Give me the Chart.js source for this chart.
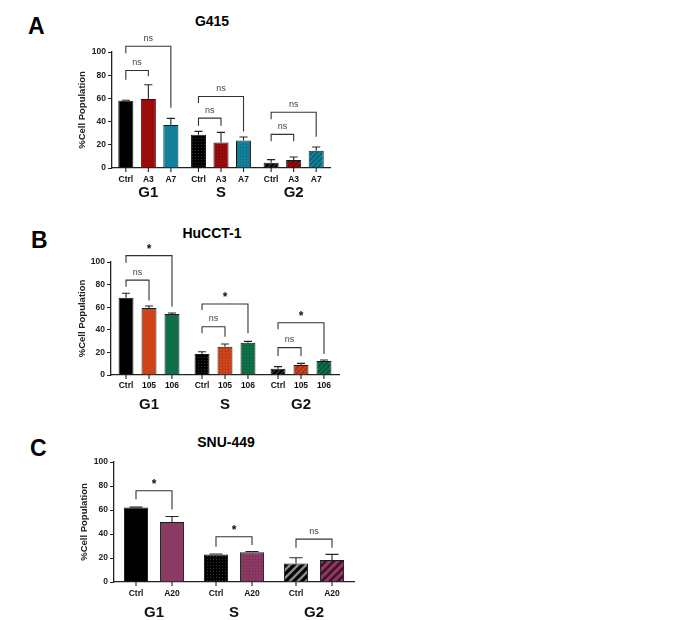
<!DOCTYPE html>
<html>
<head>
<meta charset="utf-8">
<script src="https://cdn.jsdelivr.net/npm/chart.js@4"></script>
<style>
  body { margin: 0; background: #fff; }
  #wrap { position: relative; width: 680px; height: 620px; overflow: hidden; font-family: "Liberation Sans", Arial, sans-serif; }
  canvas { position: absolute; left: 0; }
  .letter { position: absolute; font-size: 23px; line-height: 23px; font-weight: bold; color: #000; }
  .title { position: absolute; width: 200px; text-align: center; font-size: 14px; line-height: 14px; font-weight: bold; color: #000; }
</style>
</head>
<body>
<div id="wrap">
  <div class="letter" style="left:28px; top:15px;">A</div>
  <div class="title" style="left:112px; top:14px;">G415</div>
  <canvas id="chartA" width="360" height="205" style="top:0px;"></canvas>

  <div class="letter" style="left:31px; top:229px;">B</div>
  <div class="title" style="left:112px; top:226px;">HuCCT-1</div>
  <canvas id="chartB" width="360" height="205" style="top:210px;"></canvas>

  <div class="letter" style="left:30px; top:437px;">C</div>
  <div class="title" style="left:126px; top:435px;">SNU-449</div>
  <canvas id="chartC" width="360" height="205" style="top:415px;"></canvas>
</div>

<script>
  // cell cycle phases (x categories)
  var phases = ['G1', 'S', 'G2'];
  var yTicks = [0, 20, 40, 60, 80, 100];

  // A - G415
  var aGroups = ['Ctrl', 'A3', 'A7'];
  var aCtrl = [58, 28.7, 4.6];
  var aCtrlErr = [0.4, 2.9, 2.6];
  var aA3 = [59.5, 22, 6.9];
  var aA3Err = [12.3, 8.7, 2.6];
  var aA7 = [37, 23.8, 14.9];
  var aA7Err = [5.8, 2.9, 3.2];
  // [phase, from, to, top, left leg end, right leg end, label]
  var aBrackets = [
    [0, 0, 1, 84, 76, 79, 'ns'],
    [0, 0, 2, 105, 99, 52, 'ns'],
    [1, 0, 1, 43, 36.5, 36.5, 'ns'],
    [1, 0, 2, 61.7, 56, 31.5, 'ns'],
    [2, 0, 1, 29, 23, 23, 'ns'],
    [2, 0, 2, 48, 42, 27, 'ns']
  ];

  // B - HuCCT-1
  var bGroups = ['Ctrl', '105', '106'];
  var bCtrl = [68.4, 18.6, 5.6];
  var bCtrlErr = [3.9, 2.0, 1.8];
  var b105 = [59.3, 25, 8.8];
  var b105Err = [1.7, 2.4, 1.5];
  var b106 = [54, 28.6, 12.4];
  var b106Err = [0.9, 1.2, 0.9];
  var bBrackets = [
    [0, 0, 1, 84, 78, 66, 'ns'],
    [0, 0, 2, 105.6, 99.4, 60.5, '*'],
    [1, 0, 1, 42.7, 36.9, 33.9, 'ns'],
    [1, 0, 2, 62.8, 57.5, 37, '*'],
    [2, 0, 1, 24.2, 16.8, 16.8, 'ns'],
    [2, 0, 2, 46.3, 40.4, 18.6, '*']
  ];

  // C - SNU-449
  var cGroups = ['Ctrl', 'A20'];
  var cCtrl = [62, 23, 15.5];
  var cCtrlErr = [0.4, 0.3, 4.7];
  var cA20 = [50.1, 24.8, 18.3];
  var cA20Err = [4.5, 0.6, 4.7];
  var cBrackets = [
    [0, 0, 1, 76, 69, 60.4, '*'],
    [1, 0, 1, 37.7, 29.4, 30.8, '*'],
    [2, 0, 1, 35.7, 28.5, 28.5, 'ns']
  ];

  var FONT = '"Liberation Sans", Arial, sans-serif';
  Chart.defaults.font.family = FONT;

  function dotPat(base, dot) {
    var c = document.createElement('canvas');
    c.width = 3; c.height = 3;
    var g = c.getContext('2d');
    g.fillStyle = base; g.fillRect(0, 0, 3, 3);
    g.fillStyle = dot; g.fillRect(0, 0, 1, 1);
    return g.createPattern(c, 'repeat');
  }

  function stripePat(base, line, s, w) {
    var c = document.createElement('canvas');
    c.width = s; c.height = s;
    var g = c.getContext('2d');
    g.fillStyle = base; g.fillRect(0, 0, s, s);
    g.strokeStyle = line; g.lineWidth = w;
    g.beginPath();
    g.moveTo(0, s); g.lineTo(s, 0);
    g.moveTo(-s / 2, s / 2); g.lineTo(s / 2, -s / 2);
    g.moveTo(s / 2, s * 1.5); g.lineTo(s * 1.5, s / 2);
    g.stroke();
    return g.createPattern(c, 'repeat');
  }

  function fills(color, dotC, stripeC, s, w) {
    return [color, dotPat(color, dotC), stripePat(color, stripeC, s, w)];
  }

  // error bars, per-bar ticks/labels and significance brackets
  function extras(subLabels, errs, brackets, subY) {
    return {
      id: 'extras',
      afterDraw: function (chart) {
        var ctx = chart.ctx, xs = chart.scales.x, ys = chart.scales.y;
        ctx.save();
        chart.data.datasets.forEach(function (ds, di) {
          chart.getDatasetMeta(di).data.forEach(function (bar, i) {
            var top = ys.getPixelForValue(ds.data[i] + errs[di][i]);
            var half = bar.width * 0.27;
            ctx.strokeStyle = '#222';
            ctx.lineWidth = 1.1;
            ctx.beginPath();
            ctx.moveTo(bar.x, bar.y);
            ctx.lineTo(bar.x, top);
            ctx.moveTo(bar.x - half, top);
            ctx.lineTo(bar.x + half, top);
            ctx.moveTo(bar.x, xs.top);
            ctx.lineTo(bar.x, xs.top + 4);
            ctx.stroke();
            ctx.fillStyle = '#111';
            ctx.font = 'bold 8.5px ' + FONT;
            ctx.textAlign = 'center';
            ctx.textBaseline = 'middle';
            ctx.fillText(subLabels[di], bar.x, xs.top + subY);
          });
        });
        brackets.forEach(function (b) {
          var p = chart.getDatasetMeta(b[1]).data[b[0]].x;
          var q = chart.getDatasetMeta(b[2]).data[b[0]].x;
          var yT = ys.getPixelForValue(b[3]);
          ctx.strokeStyle = '#333';
          ctx.lineWidth = 1.1;
          ctx.beginPath();
          ctx.moveTo(p, ys.getPixelForValue(b[4]));
          ctx.lineTo(p, yT);
          ctx.lineTo(q, yT);
          ctx.lineTo(q, ys.getPixelForValue(b[5]));
          ctx.stroke();
          ctx.textAlign = 'center';
          ctx.textBaseline = 'middle';
          if (b[6] === '*') {
            ctx.fillStyle = '#111';
            ctx.font = 'bold 12px ' + FONT;
            ctx.fillText('*', (p + q) / 2, yT - 6);
          } else {
            ctx.fillStyle = '#444';
            ctx.font = '9px ' + FONT;
            ctx.fillText(b[6], (p + q) / 2, yT - 8);
          }
        });
        ctx.restore();
      }
    };
  }

  function makeChart(id, datasets, cfg) {
    return new Chart(document.getElementById(id), {
      type: 'bar',
      data: { labels: phases, datasets: datasets },
      options: {
        responsive: false,
        animation: false,
        layout: { padding: { top: cfg.top, left: cfg.left, right: cfg.right, bottom: 0 } },
        datasets: { bar: { categoryPercentage: cfg.cp, barPercentage: cfg.bp, borderColor: '#1a1a1a', borderWidth: 1 } },
        plugins: { legend: { display: false }, title: { display: false }, tooltip: { enabled: false } },
        scales: {
          x: {
            grid: { display: false, drawTicks: false },
            border: { color: '#222', width: 1.3 },
            ticks: { color: '#111', font: { size: 15, weight: 'bold' }, padding: cfg.groupPad, maxRotation: 0 },
            afterFit: function (s) { s.height = cfg.xh; }
          },
          y: {
            min: 0, max: 100,
            afterBuildTicks: function (s) { s.ticks = yTicks.map(function (v) { return { value: v }; }); },
            grid: { drawOnChartArea: false, drawTicks: true, tickLength: 4, color: '#222' },
            border: { color: '#222', width: 1.3 },
            ticks: { color: '#222', font: { size: 8.5, weight: 'bold' }, padding: 2 },
            title: { display: true, text: '%Cell Population', color: '#222', font: { size: 9.5, weight: 'bold' }, padding: 0 },
            afterFit: function (s) { s.width = cfg.yw; }
          }
        }
      },
      plugins: [extras(cfg.sub, cfg.errs, cfg.brackets, cfg.subY)]
    });
  }

  makeChart('chartA', [
    { label: aGroups[0], data: aCtrl, backgroundColor: fills('#000000', '#303030', '#383838', 5, 1.3) },
    { label: aGroups[1], data: aA3, backgroundColor: fills('#9a0b0b', '#6e0808', '#660606', 5, 1.3) },
    { label: aGroups[2], data: aA7, backgroundColor: fills('#13809a', '#0d6176', '#0b5a6c', 5, 1.3) }
  ], {
    top: 52, left: 77, right: 30, xh: 37, yw: 35, cp: 0.93, bp: 0.67, groupPad: 16, subY: 12,
    sub: aGroups, errs: [aCtrlErr, aA3Err, aA7Err], brackets: aBrackets
  });

  makeChart('chartB', [
    { label: bGroups[0], data: bCtrl, backgroundColor: fills('#000000', '#303030', '#383838', 5, 1.3) },
    { label: bGroups[1], data: b105, backgroundColor: fills('#d0421a', '#9a3112', '#983012', 5, 1.3) },
    { label: bGroups[2], data: b106, backgroundColor: fills('#0e7048', '#0a5536', '#084c30', 5, 1.3) }
  ], {
    top: 52, left: 77, right: 21, xh: 40, yw: 34, cp: 0.907, bp: 0.65, groupPad: 21, subY: 11,
    sub: bGroups, errs: [bCtrlErr, b105Err, b106Err], brackets: bBrackets
  });

  makeChart('chartC', [
    { label: cGroups[0], data: cCtrl, backgroundColor: fills('#000000', '#383838', '#8a8a8a', 8, 2.5) },
    { label: cGroups[1], data: cA20, backgroundColor: fills('#8b3a63', '#6a2a4a', '#3f1229', 8, 2.5) }
  ], {
    top: 47, left: 79, right: 6, xh: 38, yw: 35, cp: 0.9, bp: 0.67, groupPad: 22, subY: 12,
    sub: cGroups, errs: [cCtrlErr, cA20Err], brackets: cBrackets
  });
</script>
</body>
</html>
